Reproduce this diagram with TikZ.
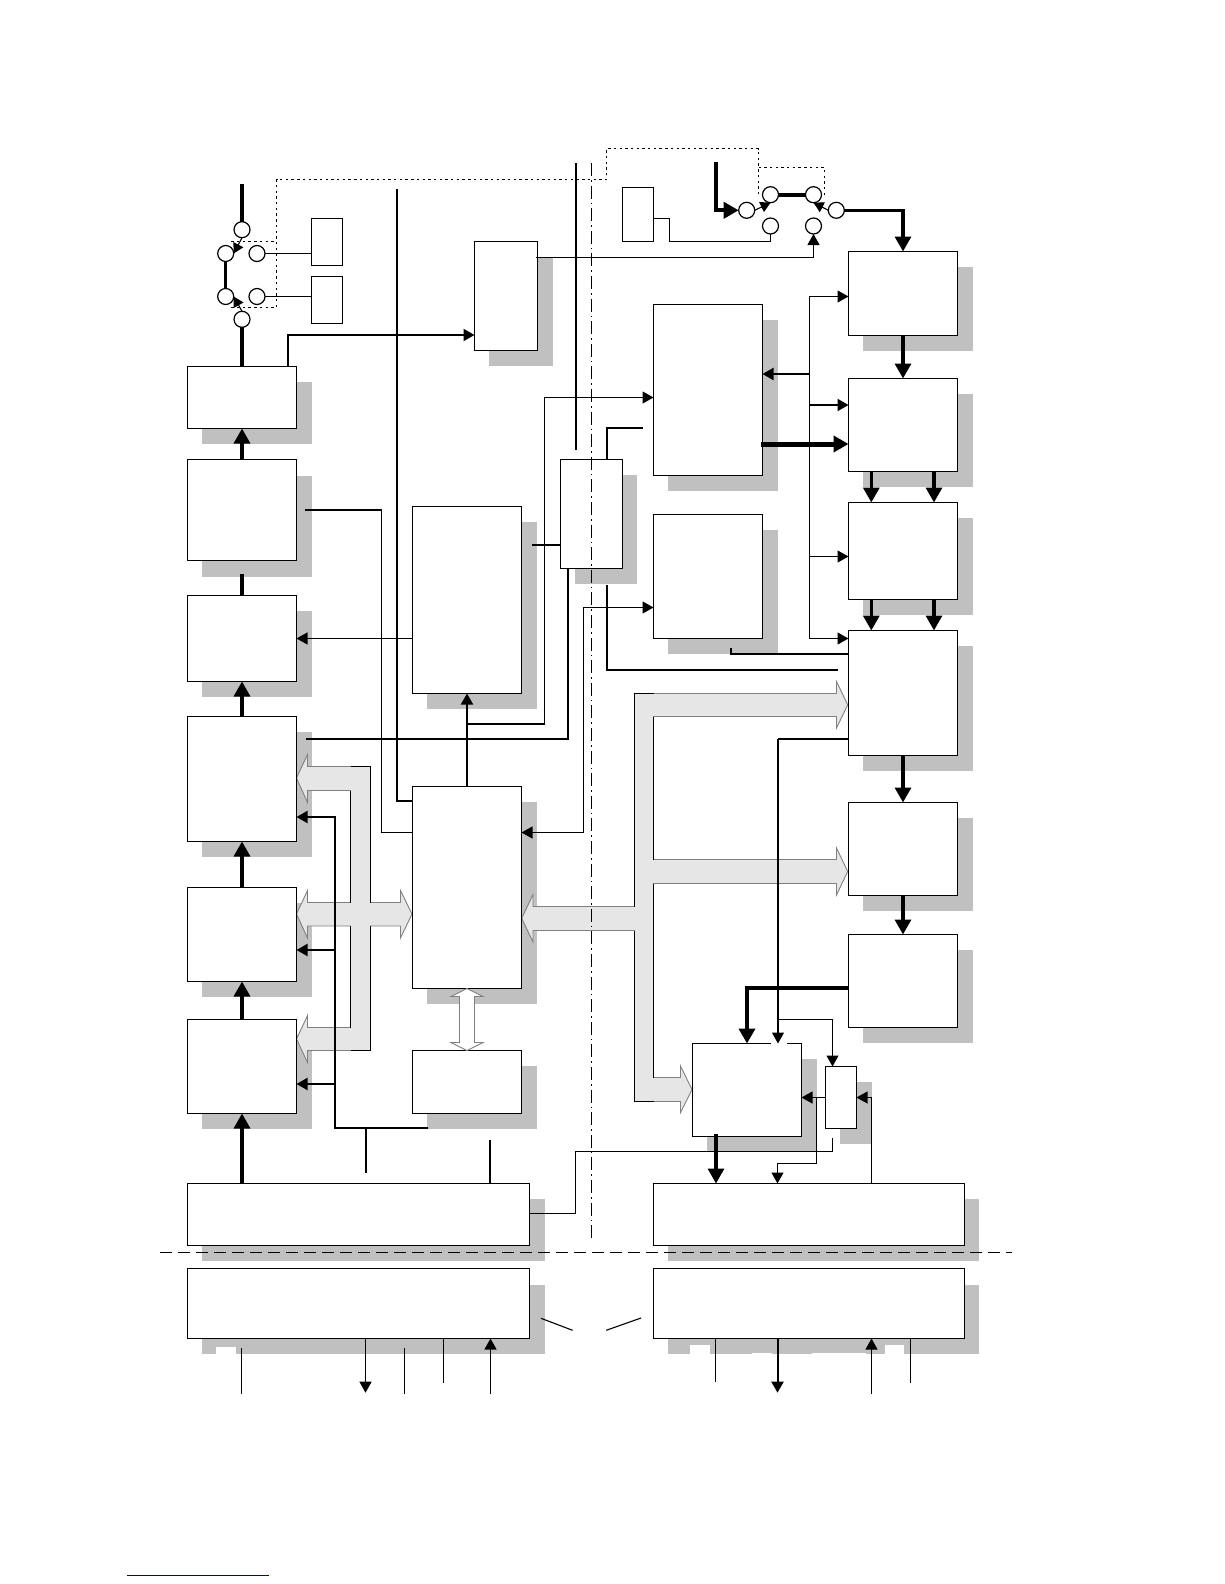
\documentclass[tikz,border=0pt]{standalone}
\usetikzlibrary{arrows.meta}
\definecolor{shadowgray}{HTML}{C0C0C0}
\definecolor{busfill}{HTML}{E6E6E6}
\definecolor{busedge}{HTML}{808080}
\definecolor{linkblue}{HTML}{0000A0}
\tikzset{
  box/.style={draw=black,fill=white,line width=1.2pt,inner sep=0pt,outer sep=0pt,anchor=north west},
  port/.style={circle,draw=black,fill=white,line width=1.2pt,inner sep=0pt,outer sep=0pt,minimum size=16pt},
  thin line/.style={line width=1.1pt},
  hair line/.style={line width=0.8pt},
  mid line/.style={line width=2pt},
  semi line/.style={line width=2.5pt},
  fat line/.style={line width=3.3pt},
  heavy line/.style={line width=4pt},
  head small/.style={-{Triangle[length=11pt,width=12pt]}},
  head mini/.style={-{Triangle[length=10pt,width=11pt]}},
  head big/.style={-{Triangle[length=15pt,width=16pt]}},
  bus/.style={fill=busfill,draw=busedge,line width=0.9pt,line join=miter},
  busrim/.style={draw=black,line width=1.2pt},
  dotted link/.style={line width=1.1pt,dash pattern=on 2.4pt off 3.3pt},
}
\begin{document}
\begin{tikzpicture}[x=1pt,y=-1pt]
\useasboundingbox (0,0) rectangle (1224,1584);
% shadows
\foreach \xa/\ya/\xb/\yb in {
 187.3/366/296.7/428, 187.3/459.5/296.7/560.5, 187.3/595/296.7/681, 187.3/716/296.7/841.3,
 187.3/887/296.7/981.3, 187.3/1019.3/296.7/1113.3,
 412.3/506.3/521.7/693.3, 412.3/786.3/521.7/988.3, 412.3/1050.3/521.7/1113.3,
 560.3/459.3/622.3/568.3, 474.3/241.3/537.7/350.3,
 653.3/304.3/762.7/475.3, 653.3/514.3/762.7/638.3,
 848.3/251.3/957.7/335.3, 848.3/378.3/957.7/471.3, 848.3/502.3/957.7/599.3,
 848.3/630.3/957.7/755.3, 848.3/802/957.7/895, 848.3/934/957.7/1027,
 692.3/1043.3/801.7/1136.3, 825.3/1066.3/856.7/1128.3,
 187.5/1183/529.5/1245, 653.4/1183/964.3/1245,
 187.5/1268.5/529.5/1338, 653.4/1268.5/964.3/1338}
 {\fill[shadowgray] (\xa+14.7,\ya+16) rectangle (\xb+15,\yb+16);}
% notches in the lower shadows
\foreach \xa/\ya/\xb in {216.2/1346.7/235.9, 689.8/1345/710, 885/1345/903.6, 752/1353/771.8, 812/1352.7/865.5}
 {\fill[white] (\xa,\ya) rectangle (\xb,1356);}
% wide buses
\draw[bus] (296.5,778)--(307.5,754.5)--(307.5,766.5)--(370.5,766.5)--(370.5,902.5)--(400.5,902.5)--(400.5,890.5)--(412,914)--(400.5,938)--(400.5,926)--(370.5,926)--(370.5,1050.5)--(307.5,1050.5)--(307.5,1062.5)--(296.5,1039)--(307.5,1015.5)--(307.5,1027.5)--(350.5,1027.5)--(350.5,926)--(307.5,926)--(307.5,938)--(296.5,914)--(307.5,890.5)--(307.5,902.5)--(350.5,902.5)--(350.5,790.5)--(307.5,790.5)--(307.5,802.5)--cycle;
\draw[bus] (634.5,693.5)--(836.5,693.5)--(836.5,681.5)--(847.7,704.8)--(836.5,728)--(836.5,716.5)--(653.5,716.5)--(653.5,859.5)--(836.5,859.5)--(836.5,848)--(847.7,871.5)--(836.5,895)--(836.5,883.5)--(653.5,883.5)--(653.5,1077.5)--(680.5,1077.5)--(680.5,1066)--(692,1089.5)--(680.5,1112.5)--(680.5,1101.5)--(634.5,1101.5)--(634.5,930.5)--(533,930.5)--(533,942)--(521.7,918.3)--(533,894.5)--(533,906.5)--(634.5,906.5)--cycle;
\draw[busrim] (350.5,790.5)--(350.5,902.5) (350.5,926)--(350.5,1027.5)
  (350.5,766.5)--(370.5,766.5)--(370.5,902.5) (370.5,926)--(370.5,1050.5)--(350.5,1050.5)
  (634.5,906.5)--(634.5,693.5)--(653.5,693.5) (653.5,716.5)--(653.5,859.5)
  (653.5,883.5)--(653.5,1077.5) (634.5,930.5)--(634.5,1101.5)--(653.5,1101.5);
% boxes
\foreach \n/\xa/\ya/\xb/\yb in {
 Ba/187.3/366/296.7/428, Bb/187.3/459.5/296.7/560.5, Bc/187.3/595/296.7/681, Bd/187.3/716/296.7/841.3,
 Be/187.3/887/296.7/981.3, Bf/187.3/1019.3/296.7/1113.3,
 Ca/412.3/506.3/521.7/693.3, Cb/412.3/786.3/521.7/988.3, Cc/412.3/1050.3/521.7/1113.3,
 D/560.3/459.3/622.3/568.3, E/474.3/241.3/537.7/350.3,
 Fa/311.3/218.3/342.7/265, Fb/311.3/276.3/342.7/323.3, G/622.3/187.3/653.3/241.3,
 H/653.3/304.3/762.7/475.3, I/653.3/514.3/762.7/638.3,
 Ra/848.3/251.3/957.7/335.3, Rb/848.3/378.3/957.7/471.3, Rc/848.3/502.3/957.7/599.3,
 Rd/848.3/630.3/957.7/755.3, Re/848.3/802/957.7/895, Rf/848.3/934/957.7/1027,
 J/692.3/1043.3/801.7/1136.3, K/825.3/1066.3/856.7/1128.3,
 L/187.5/1183/529.5/1245, M/653.4/1183/964.3/1245,
 N/187.5/1268.5/529.5/1338, P/653.4/1268.5/964.3/1338}
{\pgfmathsetmacro{\sxa}{floor(\xa)+0.5}\pgfmathsetmacro{\sya}{floor(\ya)+0.5}
 \pgfmathsetmacro{\boxw}{floor(\xb)-floor(\xa)}\pgfmathsetmacro{\boxh}{floor(\yb)-floor(\ya)}
 \node[box,minimum width=\boxw pt,minimum height=\boxh pt] (\n) at (\sxa,\sya) {};}
\fill[white] (770.7,1041) rectangle (786.7,1045.5);
% ports
\foreach \n/\x/\y in {pa/242/229.7, pb/225.7/253.5, pc/257/253.5, pd/225.7/296.5, pe/257/296.5, pf/242/319.3,
 qa/746.7/210.3, qb/770.5/194.7, qc/770.5/226, qd/813.5/194.7, qe/813.5/226, qf/836.3/210.3}
 {\node[port] (\n) at (\x,\y) {};}
% free ends
\coordinate (topA) at (242,184);
\coordinate (topB) at (397,189.3);
\coordinate (topC) at (576,163.3);
\coordinate (endC) at (576,450);
\coordinate (topD) at (716,162);
\coordinate (stubH) at (642.7,428);
\coordinate (stubRd) at (837.7,670);
\coordinate (stubBd) at (306,739);
\coordinate (stubBb) at (305,510);
\coordinate (stubCa) at (532.3,545);
\coordinate (stubDb) at (607,585);
\coordinate (tickLa) at (365.7,1172.6);
\coordinate (tickLb) at (490,1140);
\coordinate (stubCc) at (427.7,1128);
\coordinate (stubE) at (536.3,257.5);
\coordinate (stubI) at (731.3,648.3);
\coordinate (stubK) at (832.5,1138);
\coordinate (slantL) at (541,1318.3);
\coordinate (slantLe) at (572.6,1330.3);
\coordinate (slantR) at (606.2,1330.3);
\coordinate (slantRe) at (641,1318);
% dash-dot and dashed separators
\coordinate (axisT) at (591.5,163);
\coordinate (axisB) at (591.5,1238);
\coordinate (sepL) at (160,1252.5);
\coordinate (sepR) at (1012,1252.5);
\draw[line width=1.1pt,dash pattern=on 13pt off 4pt on 1.6pt off 4pt] (axisT) -- (axisB);
\draw[line width=1.2pt,dash pattern=on 12pt off 6pt] (sepL) -- (sepR);
% dotted links
\draw[dotted link] (pb.north east |- 0,241.5) -- (276.5,241.5);
\draw[dotted link] (pd.south east |- 0,307.5) -- (276.5,307.5) -- (276.5,179.5) -- (606.5,179.5) -- (606.5,148.5) -- (758.5,148.5) -- (758.5,197);
\draw[dotted link] (758.5,167.5) -- (824.5,167.5) -- (824.5,198);
% left switch
\draw[fat line] (topA) -- (pa);
\draw[fat line] (pb) -- (pd);
\draw[fat line] (pf) -- (Ba.north);
\draw[thin line,head mini] (pa.south) -- (pb.east);
\draw[thin line,head mini] (pf.north) -- (pd.east);
\draw[thin line] (pc) -- (pc -| Fa.west);
\draw[thin line] (pe) -- (pe -| Fb.west);
% right switch
\draw[heavy line,head big] (topD) -- (716,210.3) -- (qa);
\draw[heavy line] (qb) -- (qd);
\draw[thin line,head mini] (qa.east) -- (qb.south);
\draw[thin line,head mini] (qf.west) -- (qd.south);
\draw[fat line,head big] (qf) -- (qf -| Ra.north) -- (Ra.north);
\draw[thin line] (G.east |- 0,218.5) -- (669.5,218.5) -- (669.5,241.5) -- (770.5,241.5) -- (qc);
\draw[thin line,head small] (stubE) -- (stubE -| qe.south) -- (qe.south);
% left column
\draw[mid line,head small] (Ba.north -| 288,0) -- (288,335) -- (E.west |- 0,335);
\draw[fat line,head big] (Bb.north) -- (Ba.south);
\draw[fat line] (Bb.south) ++(0,13) -- (Bc.north);
\draw[fat line,head big] (Bd.north) -- (Bc.south);
\draw[fat line,head big] (Be.north) -- (Bd.south);
\draw[fat line,head big] (Bf.north) -- (Be.south);
\draw[fat line,head big] (L.north -| Bf.south) -- (Bf.south);
\draw[mid line] (stubBb) -- (381.5,510);
\draw[thin line] (381.5,510) -- (381.5,832.5) -- (Cb.west |- 0,832.5);
\draw[thin line,head small] (Ca.west |- 0,638.5) -- (Bc.east |- 0,638.5);
\draw[mid line] (topB) -- (397,801) -- (Cb.west |- 0,801);
\draw[mid line,head small] (Cb.north) -- (Ca.south);
\draw[mid line] (467,724) -- (544.5,724);
\draw[thin line,head small] (544.5,724) -- (544.5,397.5) -- (H.west |- 0,397.5);
\draw[semi line] (stubBd) -- (568,739) -- (D.south -| 568,0);
\draw[mid line] (stubCa) -- (D.west |- stubCa);
\draw[thin line,head small] (583.5,832.5) -- (Cb.east |- 0,832.5);
\draw[thin line,head small] (583.5,832.5) -- (583.5,607.5) -- (I.west |- 0,607.5);
\draw[mid line] (topC) -- (endC);
\draw[mid line] (D.north -| 607,0) -- (607,428) -- (stubH);
\draw[mid line] (stubDb) -- (607,670) -- (stubRd);
\draw[thin line] (stubE) -- (E.east |- stubE);
% hollow double arrow
\draw[fill=white,draw=busedge,line width=0.9pt] (467,988.5)--(483,996.5)--(474.5,996.5)--(474.5,1042.5)--(483,1042.5)--(467,1050.5)--(451,1042.5)--(459.5,1042.5)--(459.5,996.5)--(451,996.5)--cycle;
% control rail
\draw[mid line,head small] (stubCc) -- (335,1128) -- (335,817) -- (Bd.east |- 0,817);
\draw[mid line,head small] (335,950) -- (Be.east |- 0,950);
\draw[mid line,head small] (335,1084) -- (Bf.east |- 0,1084);
\draw[mid line] (366,1128) -- (tickLa -| 366,0);
\draw[mid line] (tickLb) -- (L.north -| tickLb);
% RF column
\draw[fat line,head big] (Ra.south) -- (Rb.north);
\draw[line width=5pt,head big] (761,444) -- (Rb.west |- 0,444);
\draw[fat line,head big] (871.3,471.3) -- (Rc.north -| 871.3,0);
\draw[fat line,head big] (934,471.3) -- (Rc.north -| 934,0);
\draw[fat line,head big] (871.3,599.3) -- (Rd.north -| 871.3,0);
\draw[fat line,head big] (934,599.3) -- (Rd.north -| 934,0);
\draw[fat line,head big] (Rd.south) -- (Re.north);
\draw[fat line,head big] (Re.south) -- (Rf.north);
% bias rail
\draw[thin line,head small] (809.5,638.5) -- (809.5,296.5) -- (Ra.west |- 0,296.5);
\draw[thin line,head small] (809.5,638.5) -- (Rd.west |- 0,638.5);
\draw[thin line,head small] (809.5,556.5) -- (Rc.west |- 0,556.5);
\draw[mid line,head small] (809.5,405) -- (Rb.west |- 0,405);
\draw[mid line,head small] (809.5,374) -- (H.east |- 0,374);
\draw[mid line] (stubI) -- (731.3,654) -- (Rd.west |- 0,654);
% mixer area
\draw[semi line] (Rd.west |- 0,739) -- (778,739);
\draw[mid line] (778,739) -- (778,1019.5);
\draw[thin line,head small] (778,1019.5) -- (J.north -| 778,0);
\draw[thin line,head small] (778,1019.5) -- (832.5,1019.5) -- (K.north -| 832.5,0);
\draw[heavy line,head big] (Rf.west |- 0,988.3) -- (747,988.3) -- (J.north -| 747,0);
\draw[fat line,head big] (716,1134) -- (M.north -| 716,0);
\draw[thin line,head small] (K.west |- 0,1097.5) -- (J.east |- 0,1097.5);
\draw[thin line,head small] (816.5,1097.5) -- (816.5,1163.5) -- (777.5,1163.5) -- (M.north -| 777.5,0);
\draw[thin line,head small] (M.north -| 871.5,0) -- (871.5,1097.5) -- (K.east |- 0,1097.5);
\draw[thin line] (L.east |- 0,1213.5) -- (575.5,1213.5) -- (575.5,1151.5) -- (832.5,1151.5) -- (stubK);
% below the lower boxes
\foreach \n/\x/\a/\b in {a/241.5/1348/1393.7, b/404.5/1348/1393.7}
 {\coordinate (u\n) at (\x,\a); \coordinate (v\n) at (\x,\b); \draw[hair line] (u\n) -- (v\n);}
\coordinate (dnNa) at (365.5,1392.7);
\coordinate (upNa) at (490.5,1393.7);
\coordinate (stNa) at (443.5,1382.7);
\coordinate (stPa) at (715.5,1381.7);
\coordinate (dnPa) at (777.5,1392.7);
\coordinate (upPa) at (871.5,1393.7);
\coordinate (stPb) at (910.5,1382.7);
\draw[thin line,head small] (N.south -| dnNa) -- (dnNa);
\draw[thin line] (N.south -| stNa) -- (stNa);
\draw[thin line,head small] (upNa) -- (N.south -| upNa);
\draw[thin line] (P.south -| stPa) -- (stPa);
\draw[mid line,head small] (P.south -| dnPa) -- (dnPa);
\draw[hair line,head small] (upPa) -- (P.south -| upPa);
\draw[thin line] (P.south -| stPb) -- (stPb);
\draw[thin line] (slantL) -- (slantLe);
\draw[thin line] (slantR) -- (slantRe);
% underline at page foot
\coordinate (ulA) at (127,1575);
\coordinate (ulB) at (268.7,1575);
\draw[linkblue,line width=1pt] (ulA) -- (ulB);
\end{tikzpicture}
\end{document}
